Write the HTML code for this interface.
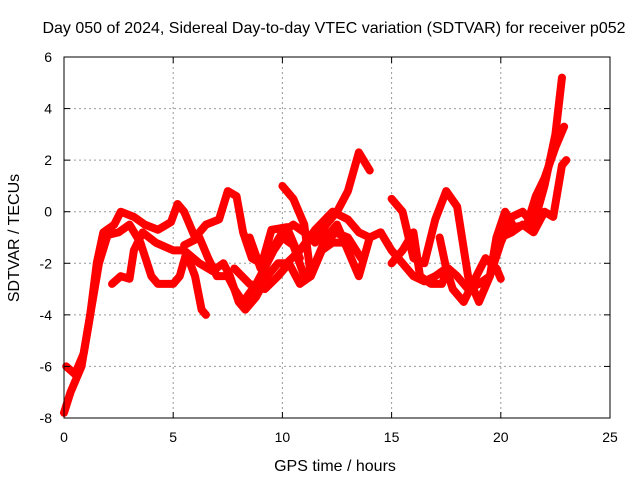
<!DOCTYPE html>
<html><head><meta charset="utf-8"><style>
body{margin:0;background:#fff;}
svg{display:block;font-family:"Liberation Sans",sans-serif;}
</style></head><body>
<svg id="chart" width="640" height="480">
<text x="334" y="33" font-size="16" text-anchor="middle">Day 050 of 2024, Sidereal Day-to-day VTEC variation (SDTVAR) for receiver p052</text>
<text x="335" y="471" font-size="16" text-anchor="middle">GPS time / hours</text>
<text transform="translate(19,238) rotate(-90)" font-size="16" text-anchor="middle">SDTVAR / TECUs</text>
<g id="grid"></g><g id="series"></g><g id="axes"></g>
</svg>
<script>
const xTicks=[0,5,10,15,20,25];
const yTicks=[-8,-6,-4,-2,0,2,4,6];
const track1=[[0,-7.8],[0.3,-7],[0.8,-6],[1.2,-4],[1.5,-2],[1.8,-0.8],[2.3,-0.5],[2.6,0],[3.2,-0.2],[3.7,-0.5],[4.3,-0.7],[4.9,-0.4],[5.2,0.3],[5.5,0],[6,-1],[6.5,-0.5],[7.1,-0.3],[7.5,0.8],[7.9,0.6],[8.2,-0.8],[8.6,-1.8],[9,-2],[9.5,-1.5],[10,-0.8],[10.5,-0.5],[11,-0.8],[11.5,-1.2],[12,-0.5],[12.5,0],[13,0.8],[13.5,2.3],[14,1.6]];
const track2=[[0.1,-6],[0.5,-6.3],[0.9,-5.5],[1.3,-3.5],[1.6,-2],[2.0,-0.9],[2.5,-0.8],[3.0,-0.5],[3.5,-1.2],[4.0,-2.5],[4.3,-2.8],[5.0,-2.8],[5.3,-2.5],[5.6,-1.6],[6,-2.5],[6.3,-3.8],[6.5,-4]];
const track3=[[2.2,-2.8],[2.6,-2.5],[3.0,-2.6],[3.2,-1.5],[3.6,-0.8],[4.2,-1.2],[5.0,-1.5],[5.5,-1.5],[6.2,-2],[6.8,-2.3],[7.3,-2],[7.6,-2.5],[8,-3.5],[8.3,-3.8],[8.8,-3.3],[9.3,-2.5],[9.8,-2],[10.2,-2],[10.8,-1.5],[11.5,-0.7],[12.3,0],[13,-0.3],[13.5,-0.8],[14,-1],[14.5,-0.8],[15,-1.5],[15.5,-2],[16,-2.5],[16.5,-2.7],[17,-2.5],[17.5,-2.2]];
const track4=[[5.5,-1.3],[6.2,-1],[6.6,-1.8],[7,-2.5],[7.5,-2.5],[7.8,-3],[8.2,-3.5],[8.8,-2.8],[9.3,-2],[9.6,-1.5],[10,-1],[10.5,-1.3],[11,-2.5],[11.5,-2],[12,-1],[12.5,-0.5],[13,-1.5],[13.5,-2.5],[14,-1],[14.5,-0.8]];
const track5=[[7.8,-2.2],[8.5,-2.8],[9.2,-3],[9.8,-2.5],[10.3,-2],[10.8,-2.8],[11.3,-2.5],[11.8,-1.5],[12.3,-1.2],[12.8,-1.2]];
const track6=[[10,1],[10.5,0.5],[11,-0.5],[11.3,-2.5],[11.8,-1.5],[12.4,-0.8],[13,-1],[13.6,-1.8]];
const track7=[[8.5,-1],[9.0,-2.2],[9.5,-0.7],[10.2,-0.6],[10.8,-1.8]];
const track8=[[15,0.5],[15.5,0],[16,-1.8],[16.5,-2],[17,-0.3],[17.5,0.8],[18,0.2],[18.5,-2.5],[19,-3.5],[19.5,-2.5],[20,-1.2],[20.5,-0.2],[21,0],[21.5,-0.5],[22,1],[22.5,3],[22.8,5.2]];
const track9=[[15,-2],[15.5,-1.5],[16,-0.8],[16.3,-2.5],[16.8,-2.8],[17.3,-2.8],[17.6,-2.2],[18,-2.5],[18.5,-3],[19,-2.8],[19.5,-2.5],[19.8,-1],[20.2,0],[20.6,-0.6],[21.2,-0.5],[21.6,0.6],[22,1.3],[22.5,2.5],[22.9,3.3]];
const track10=[[17.2,-1],[17.5,-2.2],[17.8,-3],[18.3,-3.5],[18.7,-2.8],[19.3,-1.8],[19.8,-2.2],[20,-2.6]];
const track11=[[20,-1],[20.5,-0.8],[21,-0.5],[21.5,-0.8],[22,0],[22.4,-0.2],[22.8,1.8],[23,2]];
const tracks=[track1,track2,track3,track4,track5,track6,track7,track8,track9,track10,track11];
const X0=64,X1=610,Y0=418,Y1=57;
const sx=t=>X0+(t-0)/(25-0)*(X1-X0);
const sy=v=>Y0-(v+8)/(6+8)*(Y0-Y1);
const NS="http://www.w3.org/2000/svg";
const grid=document.getElementById('grid'),axes=document.getElementById('axes'),ser=document.getElementById('series');
function mk(tag,attrs,parent){const e=document.createElementNS(NS,tag);for(const k in attrs)e.setAttribute(k,attrs[k]);parent.appendChild(e);return e;}
xTicks.forEach(t=>{const x=sx(t);
 if(t>0&&t<25){const g=mk('line',{x1:x,x2:x,y1:Y1,y2:Y0,stroke:'#999','stroke-dasharray':'2,3'},grid);
 
 }
 const tk=mk('line',{x1:x,x2:x,y1:Y0,y2:Y0-6,stroke:'#000'},axes);
 
 
 const tk2=mk('line',{x1:x,x2:x,y1:Y1,y2:Y1+6,stroke:'#000'},axes);
 
 
 const l=mk('text',{x:x,y:442,'font-size':14,'text-anchor':'middle'},axes);l.textContent=t;
 
 });
yTicks.forEach(v=>{const y=sy(v);
 if(v>-8&&v<6){const g=mk('line',{x1:X0,x2:X1,y1:y,y2:y,stroke:'#999','stroke-dasharray':'2,3'},grid);
 
 }
 const tk=mk('line',{x1:X0,x2:X0+6,y1:y,y2:y,stroke:'#000'},axes);
 
 
 const tk2=mk('line',{x1:X1,x2:X1-6,y1:y,y2:y,stroke:'#000'},axes);
 
 
 const l=mk('text',{x:52,y:y+5,'font-size':14,'text-anchor':'end'},axes);l.textContent=v;
 
 });
const fr=mk('rect',{x:X0,y:Y1,width:X1-X0,height:Y0-Y1,fill:'none',stroke:'#000'},axes);


tracks.forEach(tr=>{const p=mk('polyline',{points:tr.map(d=>sx(d[0])+','+sy(d[1])).join(' '),fill:'none',stroke:'#f00','stroke-width':8,'stroke-linejoin':'round','stroke-linecap':'round'},ser);
 
 });
</script>
</body></html>
